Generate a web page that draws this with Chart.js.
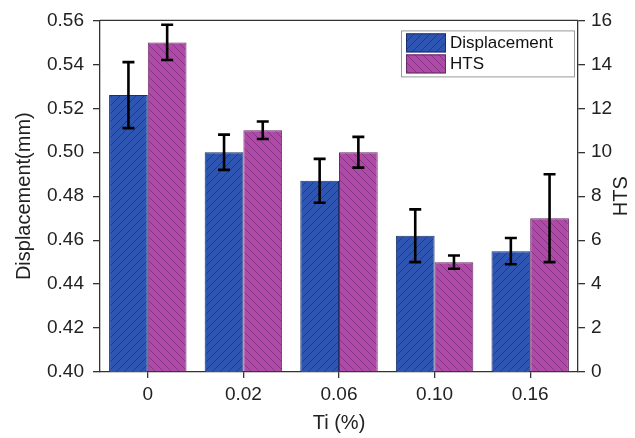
<!DOCTYPE html>
<html>
<head>
<meta charset="utf-8">
<script src="https://cdn.jsdelivr.net/npm/chart.js@4.4.1/dist/chart.umd.min.js"></script>
<style>
  html, body { margin: 0; padding: 0; background: #fff; }
</style>
</head>
<body>
<canvas id="c" width="635" height="438"></canvas>
<script>
// Ti content levels and measured results
const tiLevels = ['0', '0.02', '0.06', '0.10', '0.16'];
const displacement = [0.526, 0.500, 0.487, 0.462, 0.455];
const displacementErr = [0.015, 0.008, 0.010, 0.012, 0.006];
const hts = [15, 11, 10, 5, 7];
const htsErr = [0.8, 0.4, 0.7, 0.3, 2.0];

// Axis ranges
const dispRange = [0.40, 0.56, 0.02];
const htsRange = [0, 16, 2];

const FONT = "'Liberation Sans', Arial, sans-serif";
const AXIS = '#333333';

// Diagonal hatch fill; dir > 0 draws "/" lines, dir < 0 draws "\" lines
function hatch(bg, fg, dir) {
  const s = 8;
  const cv = document.createElement('canvas');
  cv.width = s; cv.height = s;
  const g = cv.getContext('2d');
  g.fillStyle = bg;
  g.fillRect(0, 0, s, s);
  g.strokeStyle = fg;
  g.lineWidth = 1;
  g.beginPath();
  if (dir > 0) {
    g.moveTo(0, s); g.lineTo(s, 0);
    g.moveTo(-s, s); g.lineTo(s, -s);
    g.moveTo(0, 2 * s); g.lineTo(2 * s, 0);
  } else {
    g.moveTo(0, 0); g.lineTo(s, s);
    g.moveTo(-s, 0); g.lineTo(s, 2 * s);
    g.moveTo(0, -s); g.lineTo(2 * s, s);
  }
  g.stroke();
  return g.createPattern(cv, 'repeat');
}

const bluePattern = hatch('#2f55b2', '#1f3c8a', 1);
const pinkPattern = hatch('#b04aa8', '#843680', -1);

// Error bars drawn on top of each bar
const errorBars = {
  id: 'errorBars',
  afterDatasetsDraw(chart) {
    const ctx = chart.ctx;
    chart.data.datasets.forEach((ds, i) => {
      const meta = chart.getDatasetMeta(i);
      const scale = chart.scales[ds.yAxisID];
      meta.data.forEach((bar, j) => {
        const v = ds.data[j], e = ds.errors[j];
        const yTop = scale.getPixelForValue(v + e);
        const yBot = scale.getPixelForValue(v - e);
        const x = bar.x, w = 6;
        ctx.save();
        ctx.strokeStyle = '#000';
        ctx.lineWidth = 2.6;
        ctx.lineCap = 'butt';
        ctx.beginPath();
        ctx.moveTo(x, yTop); ctx.lineTo(x, yBot);
        ctx.moveTo(x - w, yTop); ctx.lineTo(x + w, yTop);
        ctx.moveTo(x - w, yBot); ctx.lineTo(x + w, yBot);
        ctx.stroke();
        ctx.restore();
      });
    });
  }
};

// Top frame line, right axis title and the boxed legend
const decorations = {
  id: 'decorations',
  afterDraw(chart) {
    const ctx = chart.ctx;
    const a = chart.chartArea;
    ctx.save();
    ctx.strokeStyle = AXIS;
    ctx.lineWidth = 1.3;
    ctx.beginPath();
    ctx.moveTo(a.left, a.top);
    ctx.lineTo(a.right, a.top);
    ctx.stroke();

    // right axis title, reading bottom to top
    ctx.fillStyle = '#222';
    ctx.font = '20px ' + FONT;
    ctx.textAlign = 'center';
    ctx.textBaseline = 'middle';
    ctx.translate(621, (a.top + a.bottom) / 2);
    ctx.rotate(-Math.PI / 2);
    ctx.fillText('HTS', 0, 0);
    ctx.restore();

    // legend
    const bx = a.right - 177, by = a.top + 10, bw = 173, bh = 46;
    ctx.save();
    ctx.fillStyle = '#fff';
    ctx.fillRect(bx, by, bw, bh);
    ctx.strokeStyle = '#9a9a9a';
    ctx.lineWidth = 1;
    ctx.strokeRect(bx + 0.5, by + 0.5, bw, bh);
    ctx.font = '17px ' + FONT;
    ctx.textAlign = 'left';
    ctx.textBaseline = 'middle';
    chart.data.datasets.forEach((ds, i) => {
      const sy = by + 3 + i * 21;
      ctx.fillStyle = ds.backgroundColor;
      ctx.fillRect(bx + 5, sy, 40, 19);
      ctx.strokeStyle = ds.borderColor;
      ctx.lineWidth = 1;
      ctx.strokeRect(bx + 5.5, sy + 0.5, 39, 18);
      ctx.fillStyle = '#111';
      ctx.fillText(ds.label, bx + 49, sy + 10);
    });
    ctx.restore();
  }
};

new Chart(document.getElementById('c'), {
  type: 'bar',
  data: {
    labels: tiLevels,
    datasets: [
      {
        label: 'Displacement',
        data: displacement,
        errors: displacementErr,
        yAxisID: 'y',
        backgroundColor: bluePattern,
        borderColor: '#1d2f66',
        borderWidth: 1,
        categoryPercentage: 0.81,
        barPercentage: 1.0
      },
      {
        label: 'HTS',
        data: hts,
        errors: htsErr,
        yAxisID: 'y1',
        backgroundColor: pinkPattern,
        borderColor: '#6a2a66',
        borderWidth: 1,
        categoryPercentage: 0.81,
        barPercentage: 1.0
      }
    ]
  },
  options: {
    responsive: false,
    devicePixelRatio: 1,
    animation: false,
    layout: { padding: { top: 17, left: 0, right: 0, bottom: 0 } },
    plugins: { legend: { display: false }, tooltip: { enabled: false } },
    scales: {
      x: {
        type: 'category',
        offset: true,
        grid: { offset: false, drawOnChartArea: false, drawTicks: true, tickLength: 6, color: AXIS, lineWidth: 1.3 },
        border: { display: true, color: AXIS, width: 1.3 },
        ticks: { color: '#222', font: { family: FONT, size: 19 }, padding: 5, maxRotation: 0 },
        title: { display: true, text: 'Ti (%)', color: '#222', font: { family: FONT, size: 20 }, padding: { top: 0, bottom: 3 } },
        afterFit(s) { s.height = 66; }
      },
      y: {
        position: 'left',
        min: dispRange[0], max: dispRange[1],
        grid: { drawOnChartArea: false, drawTicks: true, tickLength: 7, color: AXIS, lineWidth: 1.3 },
        border: { display: true, color: AXIS, width: 1.3 },
        ticks: { stepSize: dispRange[2], color: '#222', font: { family: FONT, size: 19 }, padding: 9,
                 callback: v => Number(v).toFixed(2) },
        title: { display: true, text: 'Displacement(mm)', color: '#222', font: { family: FONT, size: 20 }, padding: { top: 12, bottom: 0 } },
        afterFit(s) { s.width = 100; }
      },
      y1: {
        position: 'right',
        min: htsRange[0], max: htsRange[1],
        grid: { drawOnChartArea: false, drawTicks: true, tickLength: 7, color: AXIS, lineWidth: 1.3 },
        border: { display: true, color: AXIS, width: 1.3 },
        ticks: { stepSize: htsRange[2], color: '#222', font: { family: FONT, size: 19 }, padding: 6 },
        afterFit(s) { s.width = 57; }
      }
    }
  },
  plugins: [errorBars, decorations]
});
</script>
</body>
</html>
